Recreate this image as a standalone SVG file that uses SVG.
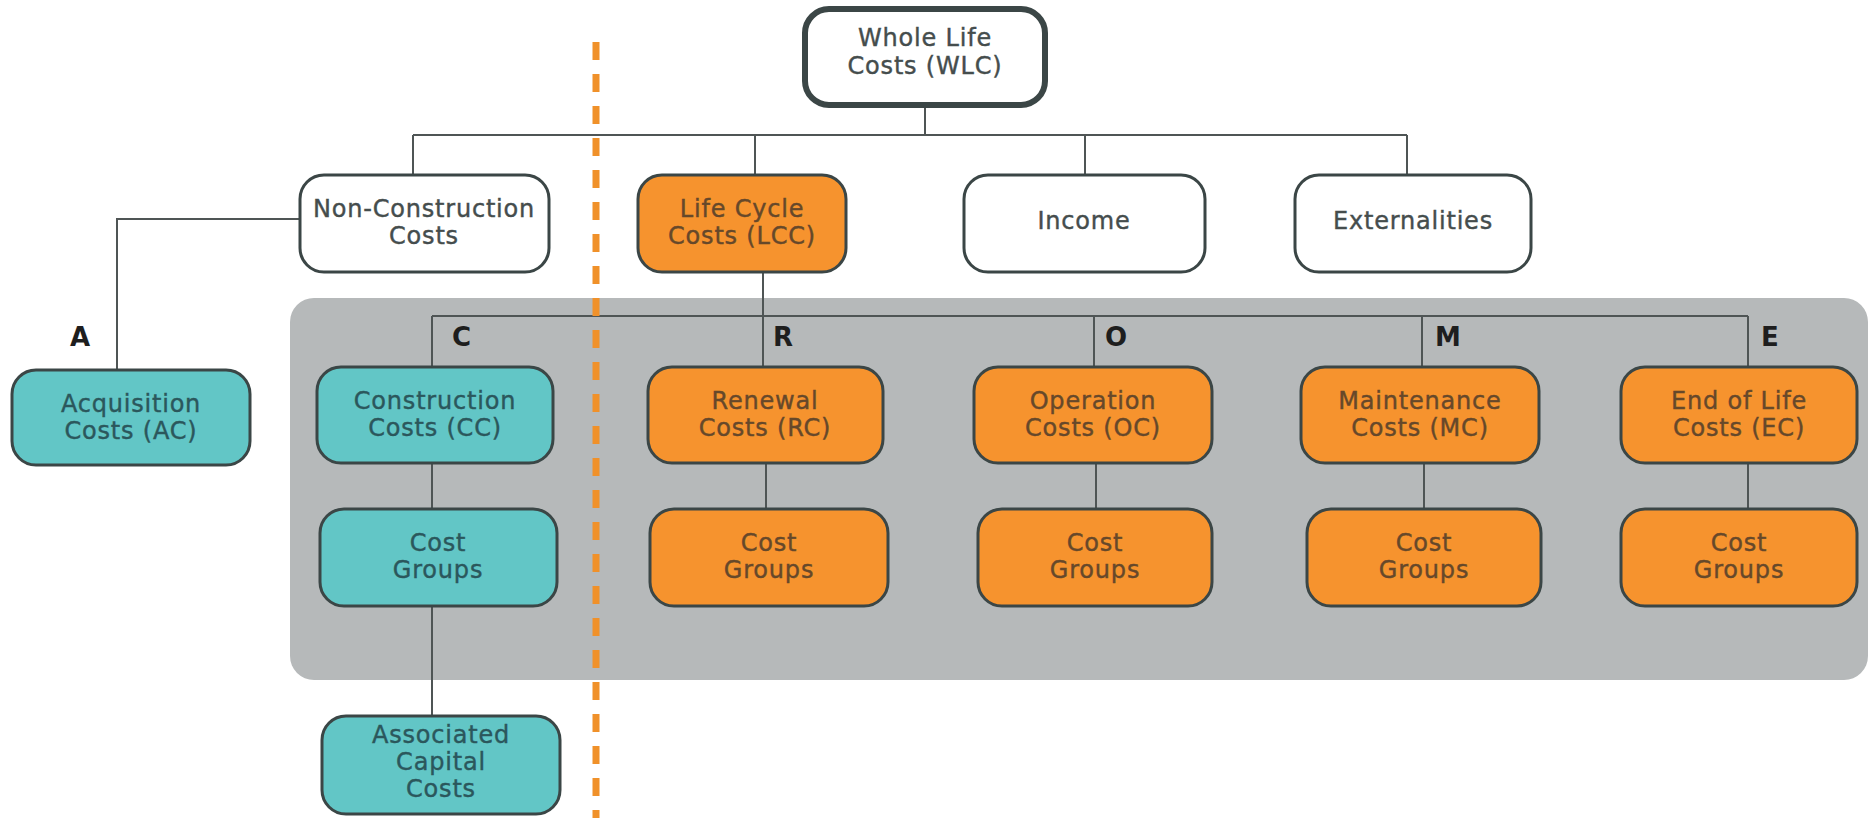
<svg xmlns="http://www.w3.org/2000/svg" width="1870" height="818" viewBox="0 0 1870 818">
<style>
.box{stroke:#3b4646;stroke-width:3}
.w{fill:#ffffff}
.t{fill:#62c6c6}
.o{fill:#f6932e}
.lbl{font-family:"DejaVu Sans",sans-serif;font-size:24px;text-anchor:middle;letter-spacing:0.8px;stroke-width:0.4px}
.lw{fill:#454d4d;stroke:#454d4d}
.lt{fill:#2b575c;stroke:#2b575c}
.lo{fill:#66482a;stroke:#66482a}
.let{font-family:"DejaVu Sans",sans-serif;font-size:26px;font-weight:bold;fill:#1e1e1e}
.c{stroke:#4f5555;stroke-width:2;fill:none}
</style>
<rect width="1870" height="818" fill="#ffffff"/>
<rect x="290" y="298" width="1578" height="382" rx="24" fill="#b6b9ba"/>
<g id="connectors">
<path class="c" d="M925 104V135M413 135H1407M413 135V175M755 135V175M1085 135V175M1407 135V175"/>
<path class="c" d="M300 219H117V370"/>
<path class="c" d="M763 272V367M432 316H1748M432 316V367M1094 316V367M1422 316V367M1748 316V367"/>
<path class="c" d="M432 463V716M766 463V509M1096 463V509M1424 463V509M1748 463V509"/>
</g>
<line x1="596" y1="42" x2="596" y2="818" stroke="#f0912a" stroke-width="7" stroke-dasharray="18 14"/>
<g id="wlc"><rect class="box w" x="805" y="9" width="240" height="96" rx="24" style="stroke-width:6"/><text class="lbl lw" x="925" y="46">Whole Life</text><text class="lbl lw" x="925" y="74">Costs (WLC)</text></g>
<g id="nonconstruction"><rect class="box w" x="300" y="175" width="249" height="97" rx="24"/><text class="lbl lw" x="424" y="217">Non-Construction</text><text class="lbl lw" x="424" y="244">Costs</text></g>
<g id="lcc"><rect class="box o" x="638" y="175" width="208" height="97" rx="24"/><text class="lbl lo" x="742" y="217">Life Cycle</text><text class="lbl lo" x="742" y="244">Costs (LCC)</text></g>
<g id="income"><rect class="box w" x="964" y="175" width="241" height="97" rx="24"/><text class="lbl lw" x="1084" y="229">Income</text></g>
<g id="externalities"><rect class="box w" x="1295" y="175" width="236" height="97" rx="24"/><text class="lbl lw" x="1413" y="229">Externalities</text></g>
<g id="letters"><text class="let" x="70" y="346">A</text><text class="let" x="452" y="346">C</text><text class="let" x="773" y="346">R</text><text class="let" x="1105" y="346">O</text><text class="let" x="1435" y="346">M</text><text class="let" x="1761" y="346">E</text></g>
<g id="ac"><rect class="box t" x="12" y="370" width="238" height="95" rx="24"/><text class="lbl lt" x="131" y="412">Acquisition</text><text class="lbl lt" x="131" y="439">Costs (AC)</text></g>
<g id="cc"><rect class="box t" x="317" y="367" width="236" height="96" rx="24"/><text class="lbl lt" x="435" y="409">Construction</text><text class="lbl lt" x="435" y="436">Costs (CC)</text></g>
<g id="rc"><rect class="box o" x="648" y="367" width="235" height="96" rx="24"/><text class="lbl lo" x="765" y="409">Renewal</text><text class="lbl lo" x="765" y="436">Costs (RC)</text></g>
<g id="oc"><rect class="box o" x="974" y="367" width="238" height="96" rx="24"/><text class="lbl lo" x="1093" y="409">Operation</text><text class="lbl lo" x="1093" y="436">Costs (OC)</text></g>
<g id="mc"><rect class="box o" x="1301" y="367" width="238" height="96" rx="24"/><text class="lbl lo" x="1420" y="409">Maintenance</text><text class="lbl lo" x="1420" y="436">Costs (MC)</text></g>
<g id="ec"><rect class="box o" x="1621" y="367" width="236" height="96" rx="24"/><text class="lbl lo" x="1739" y="409">End of Life</text><text class="lbl lo" x="1739" y="436">Costs (EC)</text></g>
<g id="cg-c"><rect class="box t" x="320" y="509" width="237" height="97" rx="24"/><text class="lbl lt" x="438" y="551">Cost</text><text class="lbl lt" x="438" y="578">Groups</text></g>
<g id="cg-r"><rect class="box o" x="650" y="509" width="238" height="97" rx="24"/><text class="lbl lo" x="769" y="551">Cost</text><text class="lbl lo" x="769" y="578">Groups</text></g>
<g id="cg-o"><rect class="box o" x="978" y="509" width="234" height="97" rx="24"/><text class="lbl lo" x="1095" y="551">Cost</text><text class="lbl lo" x="1095" y="578">Groups</text></g>
<g id="cg-m"><rect class="box o" x="1307" y="509" width="234" height="97" rx="24"/><text class="lbl lo" x="1424" y="551">Cost</text><text class="lbl lo" x="1424" y="578">Groups</text></g>
<g id="cg-e"><rect class="box o" x="1621" y="509" width="236" height="97" rx="24"/><text class="lbl lo" x="1739" y="551">Cost</text><text class="lbl lo" x="1739" y="578">Groups</text></g>
<g id="acc"><rect class="box t" x="322" y="716" width="238" height="98" rx="24"/><text class="lbl lt" x="441" y="743">Associated</text><text class="lbl lt" x="441" y="770">Capital</text><text class="lbl lt" x="441" y="797">Costs</text></g>
</svg>
